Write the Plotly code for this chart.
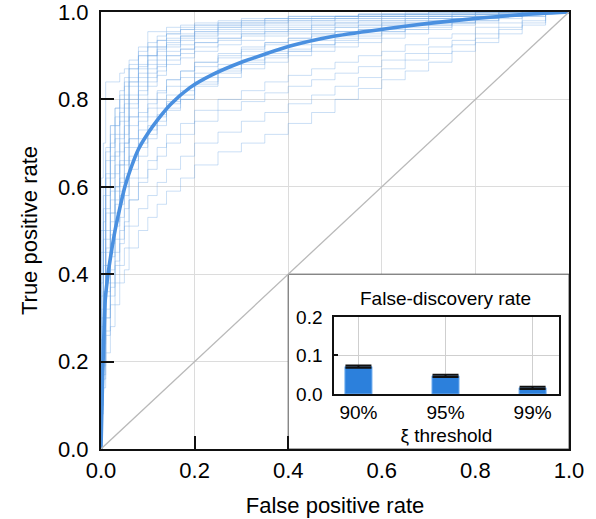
import plotly.graph_objects as go

# ---------------- data ----------------
FPR_GRID = [0, 0.005, 0.01, 0.02, 0.03, 0.04, 0.05, 0.06, 0.08, 0.10, 0.12, 0.14, 0.17, 0.20, 0.25,
            0.30, 0.35, 0.40, 0.45, 0.50, 0.55, 0.60, 0.65, 0.70, 0.75, 0.80, 0.85, 0.90, 0.95, 1.0]

ROC_TPR = [
    [0, 0.62, 0.70, 0.84, 0.84, 0.84, 0.86, 0.87, 0.89, 0.92, 0.955, 0.955, 0.965, 0.97, 0.975, 0.98, 0.985, 0.985, 0.99, 0.99, 0.99, 0.995, 0.995, 0.995, 1, 1, 1, 1, 1, 1],
    [0, 0.40, 0.55, 0.68, 0.74, 0.78, 0.81, 0.84, 0.87, 0.90, 0.92, 0.935, 0.95, 0.96, 0.965, 0.97, 0.975, 0.98, 0.985, 0.985, 0.99, 0.99, 0.99, 0.995, 0.995, 0.995, 1, 1, 1, 1],
    [0, 0.30, 0.45, 0.58, 0.66, 0.71, 0.75, 0.78, 0.83, 0.86, 0.89, 0.91, 0.925, 0.94, 0.95, 0.96, 0.965, 0.97, 0.975, 0.98, 0.985, 0.985, 0.99, 0.99, 0.99, 0.995, 0.995, 1, 1, 1],
    [0, 0.25, 0.40, 0.54, 0.62, 0.67, 0.71, 0.75, 0.80, 0.84, 0.87, 0.89, 0.91, 0.925, 0.94, 0.95, 0.955, 0.96, 0.965, 0.97, 0.975, 0.98, 0.985, 0.985, 0.99, 0.99, 0.995, 0.995, 1, 1],
    [0, 0.35, 0.50, 0.62, 0.69, 0.74, 0.78, 0.81, 0.85, 0.88, 0.90, 0.92, 0.935, 0.945, 0.955, 0.965, 0.97, 0.975, 0.98, 0.985, 0.985, 0.99, 0.99, 0.99, 0.995, 0.995, 0.995, 1, 1, 1],
    [0, 0.20, 0.34, 0.48, 0.57, 0.63, 0.68, 0.72, 0.78, 0.82, 0.85, 0.875, 0.90, 0.915, 0.93, 0.94, 0.95, 0.955, 0.96, 0.965, 0.97, 0.975, 0.98, 0.985, 0.985, 0.99, 0.99, 0.995, 1, 1],
    [0, 0.45, 0.58, 0.66, 0.72, 0.76, 0.80, 0.83, 0.87, 0.90, 0.92, 0.935, 0.95, 0.96, 0.97, 0.975, 0.98, 0.985, 0.985, 0.99, 0.99, 0.995, 0.995, 0.995, 1, 1, 1, 1, 1, 1],
    [0, 0.15, 0.28, 0.42, 0.52, 0.59, 0.65, 0.70, 0.76, 0.81, 0.84, 0.865, 0.89, 0.905, 0.92, 0.935, 0.945, 0.95, 0.955, 0.96, 0.965, 0.97, 0.975, 0.98, 0.985, 0.99, 0.99, 0.995, 0.995, 1],
    [0, 0.28, 0.42, 0.55, 0.63, 0.68, 0.72, 0.76, 0.81, 0.85, 0.88, 0.90, 0.92, 0.935, 0.945, 0.955, 0.96, 0.965, 0.97, 0.975, 0.98, 0.985, 0.985, 0.99, 0.99, 0.995, 0.995, 1, 1, 1],
    [0, 0.50, 0.60, 0.69, 0.74, 0.78, 0.82, 0.85, 0.88, 0.91, 0.93, 0.945, 0.955, 0.965, 0.97, 0.975, 0.98, 0.985, 0.99, 0.99, 0.99, 0.995, 0.995, 1, 1, 1, 1, 1, 1, 1],
    [0, 0.22, 0.36, 0.50, 0.59, 0.65, 0.70, 0.74, 0.79, 0.83, 0.86, 0.88, 0.90, 0.915, 0.93, 0.94, 0.95, 0.955, 0.96, 0.97, 0.975, 0.98, 0.98, 0.985, 0.99, 0.99, 0.995, 0.995, 1, 1],
    [0, 0.32, 0.48, 0.60, 0.67, 0.72, 0.76, 0.79, 0.84, 0.87, 0.90, 0.92, 0.94, 0.95, 0.96, 0.97, 0.975, 0.98, 0.985, 0.985, 0.99, 0.99, 0.995, 0.995, 0.995, 1, 1, 1, 1, 1],
    [0, 0.18, 0.30, 0.45, 0.54, 0.60, 0.66, 0.70, 0.76, 0.80, 0.83, 0.855, 0.88, 0.895, 0.91, 0.925, 0.935, 0.945, 0.95, 0.955, 0.965, 0.97, 0.975, 0.98, 0.985, 0.985, 0.99, 0.995, 0.995, 1],
    [0, 0.38, 0.52, 0.63, 0.70, 0.74, 0.77, 0.80, 0.84, 0.875, 0.90, 0.915, 0.93, 0.945, 0.955, 0.965, 0.97, 0.975, 0.98, 0.98, 0.985, 0.99, 0.99, 0.995, 0.995, 0.995, 1, 1, 1, 1],
    [0, 0.15, 0.25, 0.38, 0.47, 0.54, 0.59, 0.63, 0.69, 0.73, 0.76, 0.78, 0.81, 0.83, 0.86, 0.88, 0.90, 0.91, 0.925, 0.935, 0.945, 0.955, 0.96, 0.97, 0.975, 0.98, 0.985, 0.99, 0.995, 1],
    [0, 0.12, 0.22, 0.35, 0.44, 0.51, 0.56, 0.60, 0.66, 0.70, 0.73, 0.76, 0.79, 0.81, 0.84, 0.865, 0.885, 0.90, 0.91, 0.925, 0.935, 0.945, 0.955, 0.96, 0.97, 0.975, 0.98, 0.99, 0.995, 1],
    [0, 0.20, 0.30, 0.42, 0.50, 0.57, 0.62, 0.66, 0.71, 0.75, 0.78, 0.80, 0.83, 0.85, 0.875, 0.895, 0.91, 0.925, 0.935, 0.945, 0.955, 0.96, 0.97, 0.975, 0.98, 0.985, 0.99, 0.995, 1, 1],
    [0, 0.10, 0.20, 0.32, 0.41, 0.48, 0.53, 0.58, 0.64, 0.69, 0.72, 0.75, 0.78, 0.80, 0.83, 0.85, 0.87, 0.885, 0.90, 0.91, 0.92, 0.93, 0.94, 0.95, 0.96, 0.97, 0.975, 0.985, 0.99, 1],
    [0, 0.25, 0.36, 0.46, 0.54, 0.60, 0.65, 0.69, 0.74, 0.77, 0.80, 0.82, 0.845, 0.865, 0.885, 0.90, 0.915, 0.93, 0.94, 0.95, 0.955, 0.965, 0.97, 0.975, 0.98, 0.985, 0.99, 0.995, 1, 1],
    [0, 0.14, 0.24, 0.36, 0.45, 0.52, 0.58, 0.62, 0.67, 0.71, 0.74, 0.765, 0.795, 0.82, 0.85, 0.87, 0.89, 0.905, 0.915, 0.925, 0.94, 0.95, 0.955, 0.965, 0.97, 0.975, 0.985, 0.99, 0.995, 1],
    [0, 0.16, 0.27, 0.40, 0.49, 0.56, 0.61, 0.65, 0.71, 0.76, 0.79, 0.815, 0.845, 0.865, 0.885, 0.905, 0.92, 0.93, 0.94, 0.95, 0.955, 0.96, 0.965, 0.97, 0.975, 0.98, 0.985, 0.99, 0.995, 1],
    [0, 0.11, 0.19, 0.30, 0.38, 0.45, 0.50, 0.55, 0.62, 0.67, 0.71, 0.74, 0.775, 0.80, 0.835, 0.86, 0.88, 0.895, 0.91, 0.92, 0.93, 0.94, 0.95, 0.96, 0.965, 0.975, 0.98, 0.99, 0.995, 1],
    [0, 0.08, 0.14, 0.22, 0.28, 0.33, 0.38, 0.41, 0.46, 0.50, 0.53, 0.56, 0.59, 0.62, 0.65, 0.68, 0.70, 0.72, 0.745, 0.77, 0.80, 0.825, 0.845, 0.865, 0.885, 0.91, 0.93, 0.95, 0.97, 1],
    [0, 0.10, 0.17, 0.26, 0.33, 0.38, 0.42, 0.46, 0.51, 0.55, 0.58, 0.61, 0.64, 0.67, 0.70, 0.725, 0.75, 0.77, 0.79, 0.81, 0.83, 0.85, 0.87, 0.89, 0.905, 0.925, 0.94, 0.96, 0.975, 1],
    [0, 0.12, 0.20, 0.30, 0.37, 0.43, 0.48, 0.52, 0.57, 0.61, 0.64, 0.67, 0.70, 0.72, 0.75, 0.775, 0.795, 0.815, 0.83, 0.845, 0.86, 0.875, 0.89, 0.905, 0.92, 0.935, 0.95, 0.965, 0.98, 1],
    [0, 0.09, 0.16, 0.27, 0.35, 0.42, 0.47, 0.51, 0.57, 0.62, 0.66, 0.69, 0.72, 0.745, 0.775, 0.80, 0.82, 0.84, 0.855, 0.87, 0.885, 0.90, 0.91, 0.925, 0.94, 0.95, 0.965, 0.975, 0.99, 1],
]

MEAN_FPR = [0, 0.002, 0.005, 0.009, 0.015, 0.022, 0.03, 0.04, 0.051, 0.064, 0.08, 0.1, 0.12,
            0.15, 0.19, 0.235, 0.3, 0.404, 0.5, 0.617, 0.7, 0.8, 0.9, 1.0]
MEAN_TPR = [0, 0.10, 0.22, 0.34, 0.40, 0.45, 0.50, 0.55, 0.60, 0.643, 0.686, 0.722, 0.752,
            0.79, 0.827, 0.855, 0.885, 0.922, 0.945, 0.963, 0.974, 0.985, 0.994, 1.0]

CHANCE = [0, 1]

FDR_LABELS = ["90%", "95%", "99%"]
FDR_VALUES = [0.071, 0.047, 0.016]
FDR_ERRORS = [0.003, 0.003, 0.003]

MAIN_TICKS = [0.0, 0.2, 0.4, 0.6, 0.8, 1.0]
MAIN_TICKTEXT = ["0.0", "0.2", "0.4", "0.6", "0.8", "1.0"]
INSET_TICKS = [0.0, 0.1, 0.2]
INSET_TICKTEXT = ["0.0", "0.1", "0.2"]

for _c in ROC_TPR:
    assert len(_c) == len(FPR_GRID)
assert len(MEAN_FPR) == len(MEAN_TPR)

FONT = "Liberation Sans"

# ---------------- figure ----------------
fig = go.Figure()

for tpr in ROC_TPR:
    fig.add_trace(go.Scatter(x=FPR_GRID, y=tpr, mode="lines", line_shape="vh",
                             line=dict(color="rgba(110,165,228,0.36)", width=1),
                             hoverinfo="skip", showlegend=False, xaxis="x", yaxis="y"))

fig.add_trace(go.Scatter(x=MEAN_FPR, y=MEAN_TPR, mode="lines",
                         line=dict(color="#4a90e0", width=3.6, shape="spline", smoothing=0.6),
                         showlegend=False, xaxis="x", yaxis="y"))

fig.add_trace(go.Scatter(x=CHANCE, y=CHANCE, mode="lines",
                         line=dict(color="#b9b9b9", width=1.3),
                         showlegend=False, xaxis="x3", yaxis="y"))

fig.add_trace(go.Bar(x=list(range(len(FDR_LABELS))), y=FDR_VALUES, width=0.31,
                     marker=dict(color="#2c80dc", line=dict(color="#6aa9ee", width=1)),
                     error_y=dict(type="data", array=FDR_ERRORS, color="#111111",
                                  thickness=2, width=13),
                     showlegend=False, xaxis="x2", yaxis="y2"))

fig.update_layout(
    width=596, height=519,
    margin=dict(l=101, r=27, t=12, b=70, autoexpand=False),
    paper_bgcolor="white", plot_bgcolor="white",
    font=dict(family=FONT, size=22, color="black"),
    showlegend=False,
    xaxis=dict(domain=[0, 1], range=[0, 1], anchor="y", automargin=False,
               tickvals=MAIN_TICKS, ticktext=MAIN_TICKTEXT, ticks="",
               ticklabeloverflow="allow",
               showgrid=True, gridcolor="#dcdcdc", gridwidth=1, zeroline=False,
               showline=True, linecolor="#111111", linewidth=2, mirror=True,
               ticklabelstandoff=1,
               title=dict(text="False positive rate", standoff=15, font=dict(size=22))),
    xaxis3=dict(range=[0, 1], overlaying="x", anchor="y", side="bottom", automargin=False,
                tickvals=[0.0, 0.2, 0.4], ticks="inside", ticklen=13, tickwidth=2,
                tickcolor="#111111", showticklabels=False, showgrid=False,
                zeroline=False, showline=False),
    yaxis=dict(domain=[0, 1], range=[0, 1], anchor="x", automargin=False,
               tickvals=MAIN_TICKS, ticktext=MAIN_TICKTEXT,
               ticklabeloverflow="allow",
               ticks="inside", ticklen=13, tickwidth=2, tickcolor="#111111",
               showgrid=True, gridcolor="#dcdcdc", gridwidth=1, zeroline=False,
               showline=True, linecolor="#111111", linewidth=2, mirror=True,
               ticklabelstandoff=6,
               title=dict(text="True positive rate", standoff=14, font=dict(size=22))),
    xaxis2=dict(domain=[0.498, 0.978], range=[-0.28, 2.3], anchor="y2", automargin=False,
                tickvals=list(range(len(FDR_LABELS))), ticktext=FDR_LABELS, ticks="",
                showgrid=True, gridcolor="#cfcfcf", gridwidth=1, zeroline=False,
                showline=True, linecolor="#111111", linewidth=1.5, mirror=True,
                tickfont=dict(size=19), ticklabelstandoff=1,
                title=dict(text="ξ threshold", standoff=6, font=dict(size=19))),
    yaxis2=dict(domain=[0.126, 0.302], range=[0, 0.2], anchor="x2", automargin=False,
                tickvals=INSET_TICKS, ticktext=INSET_TICKTEXT,
                ticks="inside", ticklen=4, tickwidth=1.5, tickcolor="#111111",
                showgrid=True, gridcolor="#cfcfcf", gridwidth=1, zeroline=False,
                showline=True, linecolor="#111111", linewidth=1.5, mirror=True,
                tickfont=dict(size=19), ticklabelstandoff=6),
    shapes=[dict(type="rect", xref="x", yref="y", x0=0.4, x1=1.0, y0=0.0, y1=0.4,
                 fillcolor="white", line=dict(color="#555555", width=1), layer="between")],
    annotations=[dict(text="False-discovery rate", xref="x", yref="y", x=0.736, y=0.345,
                      showarrow=False, font=dict(size=19), xanchor="center", yanchor="middle")],
)

fig.write_html("out.html")
